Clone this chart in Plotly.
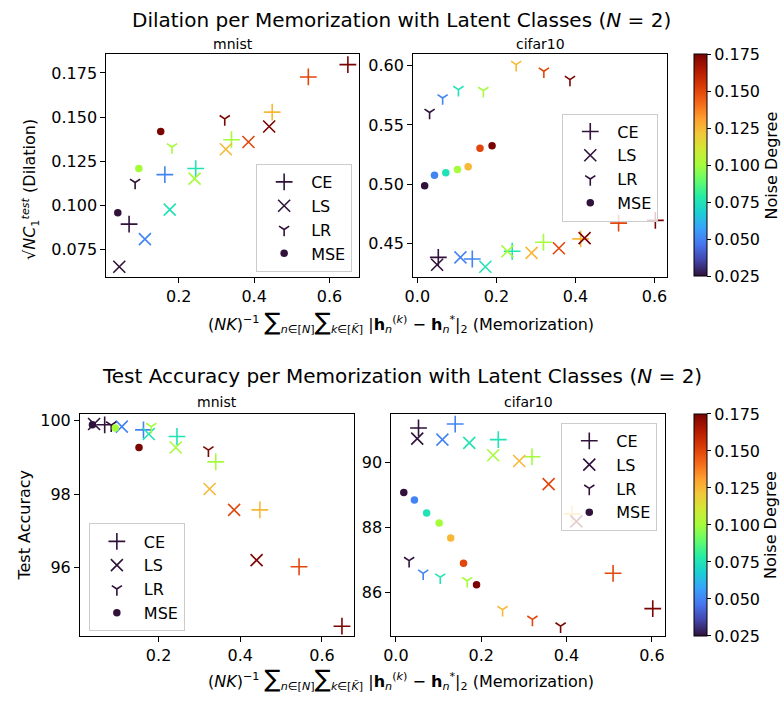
import plotly.graph_objects as go
from plotly.colors import sample_colorscale

# ---------------- data ----------------
noise = [0.025, 0.05, 0.075, 0.1, 0.125, 0.15, 0.175]
noise_sub = [0.025, 0.1, 0.175]
losses = ["CE", "LS", "LR", "MSE"]

# MNIST: memorization (x)
mnist_ce_x = [0.068, 0.163, 0.245, 0.340, 0.448, 0.544, 0.649]
mnist_ls_x = [0.042, 0.110, 0.176, 0.242, 0.325, 0.385, 0.440]
mnist_lr_x = [0.084, 0.182, 0.322]
mnist_mse_x = [0.038, 0.094, 0.152]
# MNIST: dilation
mnist_ce_dil = [0.0895, 0.1175, 0.1209, 0.1372, 0.1528, 0.1727, 0.1797]
mnist_ls_dil = [0.0654, 0.0810, 0.0977, 0.1152, 0.1318, 0.1359, 0.1447]
mnist_lr_dil = [0.1130, 0.1331, 0.1490]
mnist_mse_dil = [0.0959, 0.1209, 0.1419]
# MNIST: test accuracy
mnist_ce_acc = [99.89, 99.75, 99.57, 98.88, 97.57, 96.02, 94.40]
mnist_ls_acc = [99.91, 99.84, 99.64, 99.27, 98.14, 97.57, 96.20]
mnist_lr_acc = [99.88, 99.84, 99.20]
mnist_mse_acc = [99.89, 99.80, 99.27]

# CIFAR10: memorization (x)
cifar_ce_x = [0.053, 0.139, 0.240, 0.319, 0.413, 0.509, 0.602]
cifar_ls_x = [0.050, 0.109, 0.172, 0.228, 0.289, 0.358, 0.423]
cifar_lr_x = [0.031, 0.064, 0.104, 0.167, 0.250, 0.320, 0.386]
cifar_mse_x = [0.0185, 0.0434, 0.072, 0.1015, 0.1285, 0.1585, 0.189]
# CIFAR10: dilation
cifar_ce_dil = [0.4387, 0.4373, 0.4438, 0.4514, 0.4542, 0.4675, 0.4698]
cifar_ls_dil = [0.4325, 0.4387, 0.4308, 0.4438, 0.4424, 0.4463, 0.4548]
cifar_lr_dil = [0.5605, 0.5727, 0.5797, 0.5789, 0.6008, 0.5952, 0.5882]
cifar_mse_dil = [0.4988, 0.5078, 0.5098, 0.5126, 0.5149, 0.5304, 0.5326]
# CIFAR10: test accuracy
cifar_ce_acc = [91.07, 91.19, 90.71, 90.18, 88.42, 86.59, 85.50]
cifar_ls_acc = [90.74, 90.71, 90.61, 90.23, 90.05, 89.34, 88.19]
cifar_lr_acc = [86.98, 86.59, 86.47, 86.36, 85.47, 85.17, 84.96]
cifar_mse_acc = [89.08, 88.85, 88.45, 88.14, 87.68, 86.90, 86.24]

# ---------------- styling ----------------
W, H = 782, 704
FONT = "DejaVu Sans"
CMIN, CMAX = 0.025, 0.175


def px_x(p):
    return p / W


def px_y(p):
    return 1 - p / H


def colors_for(vals):
    return sample_colorscale("Turbo", [(v - CMIN) / (CMAX - CMIN) for v in vals])


def pad_range(*lists):
    vals = [v for l in lists for v in l]
    lo, hi = min(vals), max(vals)
    m = 0.05 * (hi - lo)
    return [lo - m, hi + m]


SYM = {
    "CE": dict(symbol="cross-thin", size=12),
    "LS": dict(symbol="x-thin", size=12),
    "LR": dict(symbol="y-down", size=8.5),
    "MSE": dict(symbol="circle", size=7.5),
}

fig = go.Figure()

panels = [
    ("", "legend", {
        "CE": (mnist_ce_x, mnist_ce_dil, noise),
        "LS": (mnist_ls_x, mnist_ls_dil, noise),
        "LR": (mnist_lr_x, mnist_lr_dil, noise_sub),
        "MSE": (mnist_mse_x, mnist_mse_dil, noise_sub),
    }),
    ("2", "legend2", {
        "CE": (cifar_ce_x, cifar_ce_dil, noise),
        "LS": (cifar_ls_x, cifar_ls_dil, noise),
        "LR": (cifar_lr_x, cifar_lr_dil, noise),
        "MSE": (cifar_mse_x, cifar_mse_dil, noise),
    }),
    ("3", "legend3", {
        "CE": (mnist_ce_x, mnist_ce_acc, noise),
        "LS": (mnist_ls_x, mnist_ls_acc, noise),
        "LR": (mnist_lr_x, mnist_lr_acc, noise_sub),
        "MSE": (mnist_mse_x, mnist_mse_acc, noise_sub),
    }),
    ("4", "legend4", {
        "CE": (cifar_ce_x, cifar_ce_acc, noise),
        "LS": (cifar_ls_x, cifar_ls_acc, noise),
        "LR": (cifar_lr_x, cifar_lr_acc, noise),
        "MSE": (cifar_mse_x, cifar_mse_acc, noise),
    }),
]

for ax, leg, data in panels:
    for name in losses:
        xs, ys, nz = data[name]
        cols = colors_for(nz)
        s = SYM[name]
        if name == "MSE":
            marker = dict(symbol=s["symbol"], size=s["size"], color=cols, line=dict(width=0))
        else:
            marker = dict(symbol=s["symbol"], size=s["size"], color=cols,
                          line=dict(width=1.6, color=cols))
        fig.add_trace(go.Scatter(
            x=xs, y=ys, mode="markers", name=name, marker=marker,
            xaxis="x" + ax, yaxis="y" + ax, legend=leg, hoverinfo="skip",
        ))

# colorbar carriers
for ax, top in [("", 51.7), ("3", 412.7)]:
    fig.add_trace(go.Scatter(
        x=[None], y=[None], mode="markers", showlegend=False, hoverinfo="skip",
        xaxis="x" + ax, yaxis="y" + ax,
        marker=dict(color=[CMIN, CMAX], colorscale="Turbo", cmin=CMIN, cmax=CMAX,
                    showscale=True,
                    colorbar=dict(
                        x=px_x(693.3), xanchor="left", xref="paper",
                        y=px_y(top), yanchor="top", yref="paper",
                        len=223.3 / H, lenmode="fraction",
                        thickness=12.5, thicknessmode="pixels",
                        xpad=0, ypad=0,
                        outlinewidth=1, outlinecolor="black",
                        tickvals=noise, tickformat=".3f",
                        ticks="outside", ticklen=4, tickcolor="black",
                        tickfont=dict(family=FONT, size=16, color="black"),
                    )),
    ))

axis_common = dict(showline=True, linecolor="black", linewidth=1, mirror=True,
                   ticks="outside", ticklen=5, tickcolor="black", showgrid=False,
                   zeroline=False, tickfont=dict(family=FONT, size=16, color="black"))

# domains (px)
TL = (99.3, 355.0, 51.7, 275.0)
TR = (409.3, 665.7, 51.7, 275.0)
BL = (72.7, 350.0, 412.7, 636.0)
BR = (387.3, 664.0, 412.7, 636.0)


def dom(b):
    return [px_x(b[0]), px_x(b[1])], [px_y(b[3]), px_y(b[2])]


xd, yd = dom(TL)
fig.update_layout(
    xaxis=dict(domain=xd, anchor="y", range=pad_range(mnist_ce_x, mnist_ls_x, mnist_lr_x, mnist_mse_x),
               dtick=0.2, tick0=0, tickformat=".1f", **axis_common),
    yaxis=dict(domain=yd, anchor="x", range=pad_range(mnist_ce_dil, mnist_ls_dil, mnist_lr_dil, mnist_mse_dil),
               dtick=0.025, tick0=0, tickformat=".3f", **axis_common),
)
xd, yd = dom(TR)
fig.update_layout(
    xaxis2=dict(domain=xd, anchor="y2", range=pad_range(cifar_ce_x, cifar_ls_x, cifar_lr_x, cifar_mse_x),
                dtick=0.2, tick0=0, tickformat=".1f", **axis_common),
    yaxis2=dict(domain=yd, anchor="x2", range=pad_range(cifar_ce_dil, cifar_ls_dil, cifar_lr_dil, cifar_mse_dil),
                dtick=0.05, tick0=0, tickformat=".2f", **axis_common),
)
xd, yd = dom(BL)
fig.update_layout(
    xaxis3=dict(domain=xd, anchor="y3", range=pad_range(mnist_ce_x, mnist_ls_x, mnist_lr_x, mnist_mse_x),
                dtick=0.2, tick0=0, tickformat=".1f", **axis_common),
    yaxis3=dict(domain=yd, anchor="x3", range=pad_range(mnist_ce_acc, mnist_ls_acc, mnist_lr_acc, mnist_mse_acc),
                dtick=2, tick0=0, **axis_common),
)
xd, yd = dom(BR)
fig.update_layout(
    xaxis4=dict(domain=xd, anchor="y4", range=pad_range(cifar_ce_x, cifar_ls_x, cifar_lr_x, cifar_mse_x),
                dtick=0.2, tick0=0, tickformat=".1f", **axis_common),
    yaxis4=dict(domain=yd, anchor="x4", range=pad_range(cifar_ce_acc, cifar_ls_acc, cifar_lr_acc, cifar_mse_acc),
                dtick=2, tick0=0, **axis_common),
)

legend_common = dict(bgcolor="rgba(255,255,255,0.8)", bordercolor="#cccccc", borderwidth=1,
                     font=dict(family=FONT, size=16, color="black"), xanchor="left", yanchor="top",
                     itemwidth=44, tracegroupgap=0, xref="paper", yref="paper")
fig.update_layout(
    legend=dict(x=px_x(250.7), y=px_y(161.7), **legend_common),
    legend2=dict(x=px_x(560), y=px_y(111), **legend_common),
    legend3=dict(x=px_x(81.7), y=px_y(522.7), **legend_common),
    legend4=dict(x=px_x(559), y=px_y(421.7), **legend_common),
)

xlabel = ("(<i>NK</i>)<sup>−1</sup> <span style='font-size:24px'>∑</span><sub><i>n</i>∈[<i>N</i>]</sub>"
          "<span style='font-size:24px'>∑</span><sub><i>k</i>∈[<i>K̃</i>]</sub> |<b>h</b><sub><i>n</i></sub>"
          "<sup>(<i>k</i>)</sup> − <b>h</b><sub><i>n</i></sub><sup>*</sup>|<sub>2</sub> (Memorization)")

ann = []


def add_ann(text, x, y, size, angle=0, **kw):
    ann.append(dict(text=text, x=px_x(x), y=px_y(y), xref="paper", yref="paper",
                    showarrow=False, textangle=angle, xanchor="center", yanchor="middle",
                    font=dict(family=FONT, size=size, color="black"), **kw))


add_ann("Dilation per Memorization with Latent Classes (<i>N</i> = 2)", 398, 17, 20)
add_ann("Test Accuracy per Memorization with Latent Classes (<i>N</i> = 2)", 398, 375, 20)
add_ann("mnist", (TL[0] + TL[1]) / 2, 41, 14)
add_ann("cifar10", (TR[0] + TR[1]) / 2, 41, 14)
add_ann("mnist", (BL[0] + BL[1]) / 2, 401, 14)
add_ann("cifar10", (BR[0] + BR[1]) / 2, 401, 14)
add_ann(xlabel, 397, 320, 16)
add_ann(xlabel, 397, 679, 16)
add_ann("√<i>NC</i><sub>1</sub><sup><i>test</i></sup> (Dilation)", 22, 187, 16, angle=-90)
add_ann("Test Accuracy", 17, 524, 16, angle=-90)
add_ann("Noise Degree", 771, 163, 16, angle=-90)
add_ann("Noise Degree", 771, 524, 16, angle=-90)

fig.update_layout(
    annotations=ann,
    width=W, height=H,
    margin=dict(l=0, r=0, t=0, b=0),
    paper_bgcolor="white", plot_bgcolor="white",
    font=dict(family=FONT, size=16, color="black"),
)

fig.write_html("out.html", config={"displayModeBar": False})

# remove the browser's default page margin so the figure sits at the page origin
with open("out.html", "r", encoding="utf-8") as f:
    html = f.read()
html = html.replace("<head>", "<head><style>html,body{margin:0;padding:0;overflow:hidden;}</style>", 1)
with open("out.html", "w", encoding="utf-8") as f:
    f.write(html)
